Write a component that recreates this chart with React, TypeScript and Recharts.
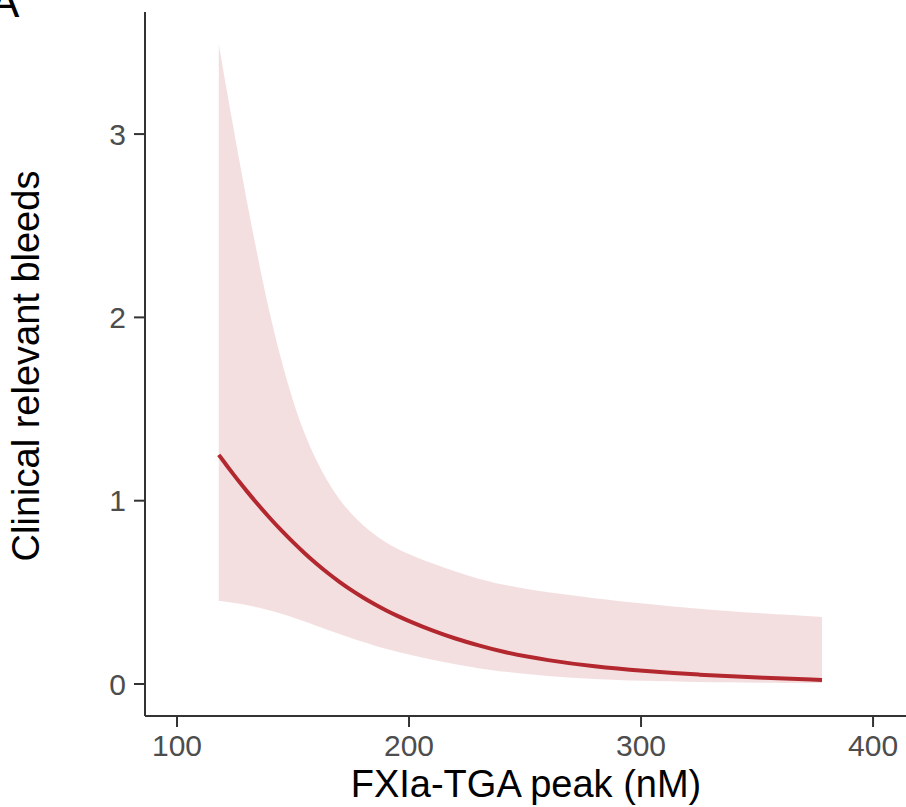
import { ComposedChart, Area, Line, XAxis, YAxis } from 'recharts'

const peak = [118, 121, 124, 127, 130, 135, 140, 145, 150, 155, 160, 165, 170, 175, 180, 185, 190, 195, 200, 210, 220, 230, 240, 260, 280, 300, 325, 350, 378]
const fit = [1.25, 1.199, 1.149, 1.1, 1.053, 0.977, 0.905, 0.837, 0.773, 0.713, 0.657, 0.605, 0.557, 0.513, 0.473, 0.436, 0.402, 0.371, 0.343, 0.291, 0.247, 0.21, 0.175, 0.128, 0.095, 0.072, 0.05, 0.035, 0.022]
const lower = [0.453, 0.449, 0.444, 0.438, 0.431, 0.417, 0.401, 0.383, 0.363, 0.341, 0.318, 0.295, 0.273, 0.251, 0.23, 0.21, 0.192, 0.175, 0.16, 0.132, 0.107, 0.086, 0.068, 0.042, 0.026, 0.017, 0.011, 0.007, 0.005]
const upper = [3.49, 3.27, 3.055, 2.845, 2.64, 2.315, 2.015, 1.76, 1.54, 1.36, 1.22, 1.1, 1.005, 0.93, 0.867, 0.815, 0.772, 0.737, 0.707, 0.658, 0.612, 0.573, 0.542, 0.498, 0.468, 0.44, 0.41, 0.386, 0.366]

const xTicks = [100, 200, 300, 400]
const yTicks = [0, 1, 2, 3]

const data = peak.map((x, i) => ({ x, fit: fit[i], band: [lower[i], upper[i]] }))

const FONT = '"Liberation Sans", Arial, Helvetica, sans-serif'
const AXIS = '#333333'
const RED = '#B2282E'

const tickStyle = { fontSize: 30, fill: '#4D4D4D', fontFamily: FONT }

export default function App() {
  return (
    <div style={{ position: 'absolute', left: 0, top: 0, width: 906, height: 807, background: '#fff', fontFamily: FONT }}>
      <div style={{ position: 'absolute', left: -10, top: -20, fontSize: 44, lineHeight: '44px', color: '#000' }}>A</div>
      <ComposedChart width={906} height={807} data={data} margin={{ top: 12, right: 0, bottom: 0, left: 0 }}>
        <XAxis
          dataKey="x"
          type="number"
          domain={[86.2, 414.2]}
          ticks={xTicks}
          allowDataOverflow
          height={91}
          tick={tickStyle}
          tickSize={11}
          tickMargin={8}
          axisLine={{ stroke: AXIS, strokeWidth: 2 }}
          tickLine={{ stroke: AXIS, strokeWidth: 2 }}
          label={() => (
            <text x={526} y={797} textAnchor="middle" fontSize={38} fontFamily={FONT} fill="#000">
              FXIa-TGA peak (nM)
            </text>
          )}
        />
        <XAxis
          xAxisId="top"
          orientation="top"
          dataKey="x"
          type="number"
          domain={[86.2, 414.2]}
          height={0}
          tick={false}
          tickLine={false}
          axisLine={{ stroke: AXIS, strokeWidth: 2 }}
        />
        <YAxis
          type="number"
          domain={[-0.1746, 3.666]}
          ticks={yTicks}
          allowDataOverflow
          width={145}
          tick={tickStyle}
          tickSize={11}
          tickMargin={8}
          axisLine={{ stroke: AXIS, strokeWidth: 2 }}
          tickLine={{ stroke: AXIS, strokeWidth: 2 }}
          label={() => (
            <text x={39} y={366} transform="rotate(-90, 39, 366)" textAnchor="middle" fontSize={38} fontFamily={FONT} fill="#000">
              Clinical relevant bleeds
            </text>
          )}
        />
        <Area
          dataKey="band"
          type="basis"
          stroke="none"
          fill={RED}
          fillOpacity={0.15}
          isAnimationActive={false}
        />
        <Line
          dataKey="fit"
          type="basis"
          stroke={RED}
          strokeWidth={4}
          dot={false}
          isAnimationActive={false}
        />
      </ComposedChart>
    </div>
  )
}
